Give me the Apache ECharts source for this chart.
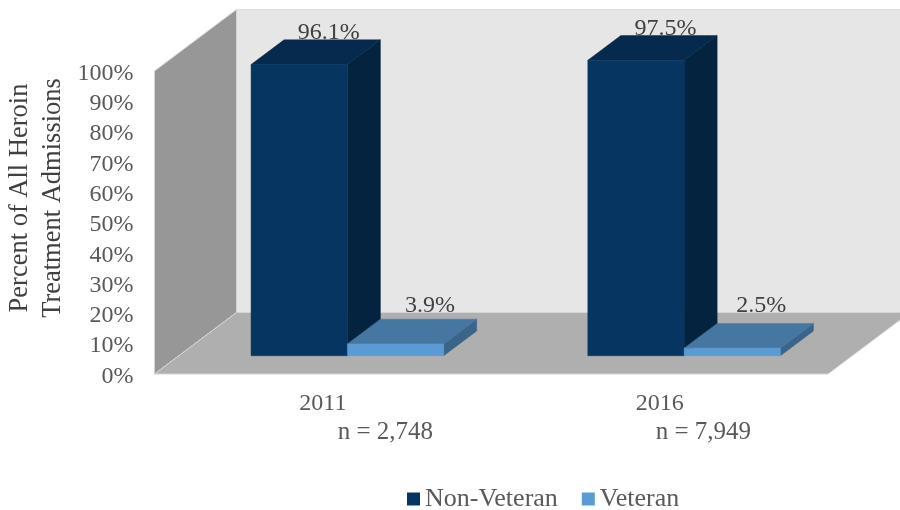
<!DOCTYPE html>
<html lang="en">
<head>
    <meta charset="UTF-8"/>
    <title>Heroin Treatment Admissions</title>
    <style>
        html, body {margin: 0; padding: 0; background: #fff;}
        #chart {width: 900px; height: 510px;}
    </style>
</head>
<body>
<div id="chart"></div>
<script src="https://cdn.jsdelivr.net/npm/echarts@6/dist/echarts.min.js"></script>
<script>
    var categories = ["2011", "2016"];
    var sampleSizes = ["n = 2,748", "n = 7,949"];
    var nonVeteran = [96.1, 97.5];
    var veteran = [3.9, 2.5];
    var axisTitle = ["Percent of All Heroin", "Treatment Admissions"];

    var serif = '"Liberation Serif", serif';
    var floorDepth = [82, -61.5];   // how far the back wall sits behind the front plane
    var barShift = [24.5, -18.3];   // bars stand part way back on the floor
    var barDepth = [33, -24.7];
    var barRatio = 0.286;
    // hand placed in the original, so they do not follow one rule
    var labelLift = [[7, 7], [13.6, 17.7]];
    var labelNudge = [[-3.5, -3.5], [1.5, -4]];
    var sampleIndent = [20, 14];

    var nonVeteranColors = {front: "#063562", top: "#052a4e", side: "#03233f"};
    var veteranColors = {front: "#5b9bd5", top: "#4676a2", side: "#3a6589"};

    function poly(points, fill) {
        return {type: "polygon", shape: {points: points}, style: {fill: fill, stroke: fill, lineWidth: 0.5}};
    }

    function renderWalls(params) {
        var c = params.coordSys;
        var dx = floorDepth[0], dy = floorDepth[1];
        var l = c.x, r = c.x + c.width, t = c.y, b = c.y + c.height;
        return {
            type: "group",
            children: [
                {type: "polygon", shape: {points: [[l + dx, t + dy], [r + dx, t + dy], [r + dx, b + dy], [l + dx, b + dy]]},
                    style: {fill: "#e6e6e6", stroke: "#dedede", lineWidth: 1}},
                {type: "polygon", shape: {points: [[l, t], [l + dx, t + dy], [l + dx, b + dy], [l, b]]},
                    style: {fill: "#979797", stroke: "#d4d4d4", lineWidth: 1}},
                {type: "polygon", shape: {points: [[l, b], [l + dx, b + dy], [r + dx, b + dy], [r, b]]},
                    style: {fill: "#afafaf", stroke: "#d4d4d4", lineWidth: 1}}
            ]
        };
    }

    function barRenderer(order, colors) {
        return function (params, api) {
            var idx = api.value(0);
            var top = api.coord([idx, api.value(1)]);
            var base = api.coord([idx, 0]);
            var w = api.size([1, 0])[0] * barRatio;
            var x0 = top[0] + barShift[0] + (order - 1) * w;
            var x1 = x0 + w;
            var y0 = top[1] + barShift[1];
            var y1 = base[1] + barShift[1];
            var dx = barDepth[0], dy = barDepth[1];
            return {
                type: "group",
                children: [
                    {
                        type: "text",
                        style: {
                            x: x0 + w / 2 + dx + labelNudge[order][idx],
                            y: y0 + dy - labelLift[order][idx],
                            text: api.value(1).toFixed(1) + "%",
                            fill: "#404040",
                            font: "24px " + serif,
                            align: "center",
                            verticalAlign: "middle"
                        }
                    },
                    poly([[x1, y0], [x1 + dx, y0 + dy], [x1 + dx, y1 + dy], [x1, y1]], colors.side),
                    poly([[x0, y0], [x0 + dx, y0 + dy], [x1 + dx, y0 + dy], [x1, y0]], colors.top),
                    poly([[x0, y0], [x1, y0], [x1, y1], [x0, y1]], colors.front)
                ]
            };
        };
    }

    function toPairs(values) {
        return values.map(function (v, i) {
            return [i, v];
        });
    }

    var chart = echarts.init(document.getElementById("chart"));
    chart.setOption({
        animation: false,
        backgroundColor: "#fff",
        textStyle: {fontFamily: serif},
        grid: {left: 154.5, right: 72, top: 71, bottom: 136},
        xAxis: {
            type: "category",
            data: categories,
            axisLine: {show: false},
            axisTick: {show: false},
            splitLine: {show: false},
            axisLabel: {
                margin: 16,
                interval: 0,
                formatter: function (value, i) {
                    var pad = new Array(sampleIndent[i] + 1).join(" ");
                    return "{year|" + value + "}\n{size|" + pad + sampleSizes[i] + "}";
                },
                rich: {
                    year: {fontFamily: serif, fontSize: 24, lineHeight: 28, color: "#595959"},
                    size: {fontFamily: serif, fontSize: 25, lineHeight: 28, color: "#595959"}
                }
            }
        },
        yAxis: {
            type: "value",
            min: 0,
            max: 100,
            interval: 10,
            axisLine: {show: false},
            axisTick: {show: false},
            splitLine: {show: false},
            axisLabel: {
                margin: 21,
                formatter: "{tick|{value}%}",
                rich: {
                    tick: {fontFamily: serif, fontSize: 24, color: "#595959", padding: [5, 0, 0, 0]}
                }
            }
        },
        legend: {
            data: ["Non-Veteran", "Veteran"],
            left: 407,
            top: 486,
            padding: 0,
            itemWidth: 13,
            itemHeight: 13,
            itemGap: 24,
            icon: "rect",
            textStyle: {fontFamily: serif, fontSize: 26, color: "#595959"}
        },
        graphic: axisTitle.map(function (line, i) {
            return {
                type: "text",
                x: i === 0 ? 20.5 : 53,
                y: 198,
                rotation: Math.PI / 2,
                style: {
                    text: line,
                    fill: "#404040",
                    font: "26.5px " + serif,
                    align: "center",
                    verticalAlign: "middle"
                }
            };
        }),
        series: [
            {type: "custom", name: "walls", silent: true, z: 1, renderItem: renderWalls, data: [[0, 0]], encode: {x: 0, y: 1}},
            {
                type: "custom", name: "Non-Veteran", z: 2, renderItem: barRenderer(0, nonVeteranColors),
                itemStyle: {color: nonVeteranColors.front}, data: toPairs(nonVeteran), encode: {x: 0, y: 1}
            },
            {
                type: "custom", name: "Veteran", z: 3, renderItem: barRenderer(1, veteranColors),
                itemStyle: {color: veteranColors.front}, data: toPairs(veteran), encode: {x: 0, y: 1}
            }
        ]
    });
</script>
</body>
</html>
